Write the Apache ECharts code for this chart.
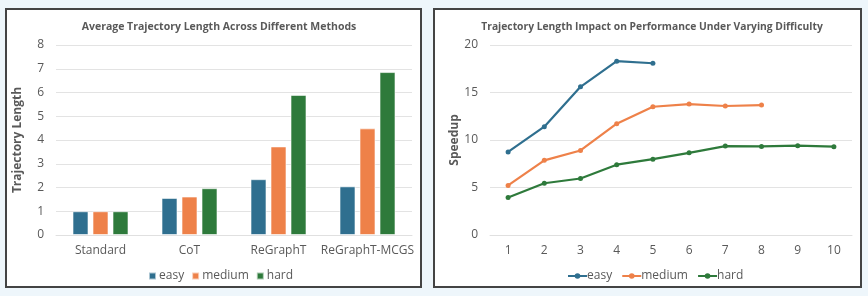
<!DOCTYPE html>
<html><head><meta charset="utf-8">
<script src="https://cdn.jsdelivr.net/npm/echarts@6/dist/echarts.min.js"></script>
<style>html,body{margin:0;padding:0;background:#eef6fb;}#c{width:868px;height:296px;}</style>
</head><body><div id="c"></div>
<script>
const methods = ['Standard', 'CoT', 'ReGraphT', 'ReGraphT-MCGS'];
const barEasy = [1.0, 1.56, 2.35, 2.05];
const barMedium = [1.0, 1.62, 3.73, 4.49];
const barHard = [1.0, 1.97, 5.9, 6.86];
const lengths = ['1','2','3','4','5','6','7','8','9','10'];
const speedEasy = [8.75, 11.4, 15.6, 18.3, 18.08];
const speedMedium = [5.22, 7.86, 8.9, 11.72, 13.5, 13.78, 13.58, 13.68];
const speedHard = [3.95, 5.45, 5.95, 7.4, 7.98, 8.65, 9.36, 9.32, 9.4, 9.3];
const yTicksLeft = [0, 8, 1];
const yTicksRight = [0, 20, 5];

const C = {easy:'#2f6f8f', medium:'#ee8149', hard:'#2e7a3b'};
const FONT = 'Open Sans';
const txt = '#595959';
const chart = echarts.init(document.getElementById('c'));
const axisY = (g, t, name, gap) => ({
  gridIndex: g, type: 'value', min: t[0], max: t[1], interval: t[2],
  name: name, nameLocation: 'middle', nameGap: gap,
  nameTextStyle: {fontFamily: FONT, fontWeight: 'bold', fontSize: 12, color: txt},
  axisLine: {show: false}, axisTick: {show: false},
  axisLabel: {fontFamily: FONT, fontSize: 12, color: txt, margin: 12},
  splitLine: {lineStyle: {color: '#e3e3e3', width: 1}}
});
const axisX = (g, data) => ({
  gridIndex: g, type: 'category', data: data,
  axisLine: {lineStyle: {color: '#e0e0e0'}}, axisTick: {show: false},
  axisLabel: {fontFamily: FONT, fontSize: 12, color: txt, margin: 10, interval: 0}
});
const bar = (name, d, col) => ({
  name, type: 'bar', xAxisIndex: 0, yAxisIndex: 0, data: d,
  barWidth: 16, barGap: '25%',
  itemStyle: {color: col, borderColor: 'rgba(255,255,255,0.6)', borderWidth: 1}
});
const line = (name, d, col) => ({
  name, type: 'line', xAxisIndex: 1, yAxisIndex: 1, data: d,
  symbol: 'circle', symbolSize: 5, lineStyle: {color: col, width: 2.2},
  itemStyle: {color: col}
});
chart.setOption({
  animation: false,
  backgroundColor: '#eef6fb',
  graphic: [
    {type: 'rect', z: -10, shape: {x: 6, y: 9, width: 415, height: 278}, style: {fill: '#fff', stroke: '#444', lineWidth: 2}},
    {type: 'rect', z: -10, shape: {x: 434, y: 9, width: 427, height: 278}, style: {fill: '#fff', stroke: '#444', lineWidth: 2}}
  ],
  title: [
    {text: 'Average Trajectory Length Across Different Methods', left: 214, top: 17, textAlign: 'center',
     textStyle: {fontFamily: FONT, fontSize: 10.5, fontWeight: 'bold', color: txt}},
    {text: 'Trajectory Length Impact on Performance Under Varying Difficulty', left: 647, top: 17, textAlign: 'center',
     textStyle: {fontFamily: FONT, fontSize: 10.3, fontWeight: 'bold', color: txt}}
  ],
  legend: [
    {data: ['easy','medium','hard'], left: 143, top: 265, itemWidth: 7, itemHeight: 7, itemGap: 7,
     icon: 'rect', textStyle: {fontFamily: FONT, fontSize: 12, color: txt, padding: [0,0,0,-2]},
     selectedMode: false},
    {data: ['easy ','medium ','hard '], left: 562, top: 265, itemWidth: 19, itemHeight: 7, itemGap: 6,
     textStyle: {fontFamily: FONT, fontSize: 12, color: txt, padding: [0,0,0,-5]}, selectedMode: false}
  ],
  grid: [
    {left: 56, right: 456, top: 45, bottom: 61},
    {left: 490, right: 16, top: 45, bottom: 61}
  ],
  xAxis: [axisX(0, methods), axisX(1, lengths)],
  yAxis: [axisY(0, yTicksLeft, 'Trajectory Length', 32), axisY(1, yTicksRight, 'Speedup', 29)],
  series: [
    bar('easy', barEasy, C.easy), bar('medium', barMedium, C.medium), bar('hard', barHard, C.hard),
    line('easy ', speedEasy, C.easy), line('medium ', speedMedium, C.medium), line('hard ', speedHard, C.hard)
  ]
});
</script></body></html>
